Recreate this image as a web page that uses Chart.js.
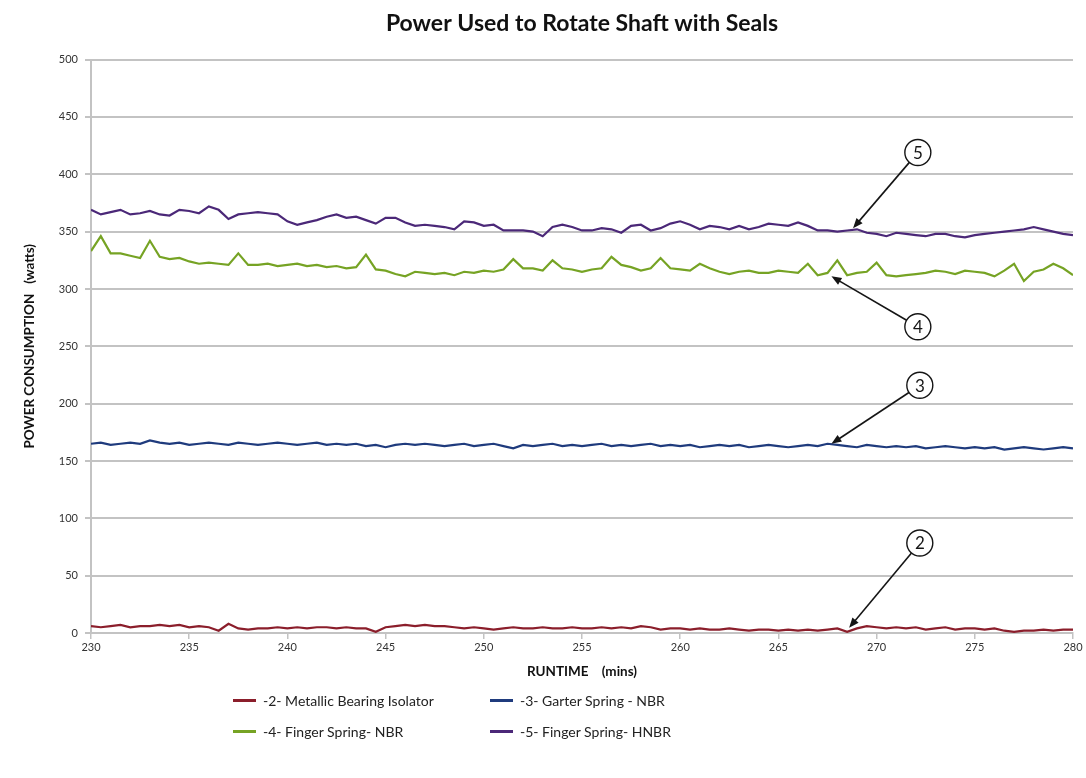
<!DOCTYPE html>
<html>
<head>
<meta charset="utf-8">
<title>Power Used to Rotate Shaft with Seals</title>
<script src="https://cdn.jsdelivr.net/npm/chart.js@4.4.1/dist/chart.umd.min.js"></script>
<style>
    html, body { margin: 0; padding: 0; background: #fff; }
    #wrap { position: relative; width: 1086px; height: 778px; overflow: hidden; }
    #chart { position: absolute; left: 0; top: 0; }
    #legend {
        position: absolute; left: 233px; top: 685px;
        display: grid; grid-template-columns: 257px 257px; grid-auto-rows: 31px;
        font-family: Lato, "Open Sans", sans-serif; font-size: 14px; color: #222;
    }
    #legend .item { display: flex; align-items: center; white-space: nowrap; }
    #legend .swatch { display: inline-block; width: 23px; height: 2.5px; margin-right: 7px; }
</style>
</head>
<body>
<div id="wrap">
    <canvas id="chart" width="1086" height="690"></canvas>
    <div id="legend"></div>
</div>
<script>
// ==================== DATA ====================
const runtime = [
    230, 230.5, 231, 231.5, 232, 232.5, 233, 233.5, 234, 234.5,
    235, 235.5, 236, 236.5, 237, 237.5, 238, 238.5, 239, 239.5,
    240, 240.5, 241, 241.5, 242, 242.5, 243, 243.5, 244, 244.5,
    245, 245.5, 246, 246.5, 247, 247.5, 248, 248.5, 249, 249.5,
    250, 250.5, 251, 251.5, 252, 252.5, 253, 253.5, 254, 254.5,
    255, 255.5, 256, 256.5, 257, 257.5, 258, 258.5, 259, 259.5,
    260, 260.5, 261, 261.5, 262, 262.5, 263, 263.5, 264, 264.5,
    265, 265.5, 266, 266.5, 267, 267.5, 268, 268.5, 269, 269.5,
    270, 270.5, 271, 271.5, 272, 272.5, 273, 273.5, 274, 274.5,
    275, 275.5, 276, 276.5, 277, 277.5, 278, 278.5, 279, 279.5,
    280
];

// -2- Metallic Bearing Isolator
const sealMetallic = [
    6, 5, 6, 7, 5, 6, 6, 7, 6, 7,
    5, 6, 5, 2, 8, 4, 3, 4, 4, 5,
    4, 5, 4, 5, 5, 4, 5, 4, 4, 1,
    5, 6, 7, 6, 7, 6, 6, 5, 4, 5,
    4, 3, 4, 5, 4, 4, 5, 4, 4, 5,
    4, 4, 5, 4, 5, 4, 6, 5, 3, 4,
    4, 3, 4, 3, 3, 4, 3, 2, 3, 3,
    2, 3, 2, 3, 2, 3, 4, 1, 4, 6,
    5, 4, 5, 4, 5, 3, 4, 5, 3, 4,
    4, 3, 4, 2, 1, 2, 2, 3, 2, 3,
    3
];

// -3- Garter Spring - NBR
const sealGarter = [
    165, 166, 164, 165, 166, 165, 168, 166, 165, 166,
    164, 165, 166, 165, 164, 166, 165, 164, 165, 166,
    165, 164, 165, 166, 164, 165, 164, 165, 163, 164,
    162, 164, 165, 164, 165, 164, 163, 164, 165, 163,
    164, 165, 163, 161, 164, 163, 164, 165, 163, 164,
    163, 164, 165, 163, 164, 163, 164, 165, 163, 164,
    163, 164, 162, 163, 164, 163, 164, 162, 163, 164,
    163, 162, 163, 164, 163, 165, 164, 163, 162, 164,
    163, 162, 163, 162, 163, 161, 162, 163, 162, 161,
    162, 161, 162, 160, 161, 162, 161, 160, 161, 162,
    161
];

// -4- Finger Spring- NBR
const sealFingerNbr = [
    333, 346, 331, 331, 329, 327, 342, 328, 326, 327,
    324, 322, 323, 322, 321, 331, 321, 321, 322, 320,
    321, 322, 320, 321, 319, 320, 318, 319, 330, 317,
    316, 313, 311, 315, 314, 313, 314, 312, 315, 314,
    316, 315, 317, 326, 318, 318, 316, 325, 318, 317,
    315, 317, 318, 328, 321, 319, 316, 318, 327, 318,
    317, 316, 322, 318, 315, 313, 315, 316, 314, 314,
    316, 315, 314, 322, 312, 314, 325, 312, 314, 315,
    323, 312, 311, 312, 313, 314, 316, 315, 313, 316,
    315, 314, 311, 316, 322, 307, 315, 317, 322, 318,
    312
];

// -5- Finger Spring- HNBR
const sealFingerHnbr = [
    369, 365, 367, 369, 365, 366, 368, 365, 364, 369,
    368, 366, 372, 369, 361, 365, 366, 367, 366, 365,
    359, 356, 358, 360, 363, 365, 362, 363, 360, 357,
    362, 362, 358, 355, 356, 355, 354, 352, 359, 358,
    355, 356, 351, 351, 351, 350, 346, 354, 356, 354,
    351, 351, 353, 352, 349, 355, 356, 351, 353, 357,
    359, 356, 352, 355, 354, 352, 355, 352, 354, 357,
    356, 355, 358, 355, 351, 351, 350, 351, 352, 349,
    348, 346, 349, 348, 347, 346, 348, 348, 346, 345,
    347, 348, 349, 350, 351, 352, 354, 352, 350, 348,
    347
];

const seriesNames = [
    '-2- Metallic Bearing Isolator',
    '-3- Garter Spring - NBR',
    '-4- Finger Spring- NBR',
    '-5- Finger Spring- HNBR'
];
const seriesValues = [sealMetallic, sealGarter, sealFingerNbr, sealFingerHnbr];
const seriesColors = ['#8b1e2b', '#1f3b7d', '#76a324', '#4b2878'];

// callouts: numbered circles with arrows (data units)
const calloutLabels = ['5', '4', '3', '2'];
const calloutCircleX = [272.1, 272.1, 272.2, 272.2];
const calloutCircleY = [419, 267, 216, 78.5];
const calloutTipX = [268.8, 267.7, 267.7, 268.6];
const calloutTipY = [353, 311, 165, 4.5];

// ==================== PLUGIN: CALLOUTS ====================
const calloutPlugin = {
    id: 'callouts',
    afterDatasetsDraw(chart) {
        const { ctx, scales: { x, y } } = chart;
        const r = 13;
        ctx.save();
        calloutLabels.forEach((lbl, i) => {
            const cx = x.getPixelForValue(calloutCircleX[i]);
            const cy = y.getPixelForValue(calloutCircleY[i]);
            const tx = x.getPixelForValue(calloutTipX[i]);
            const ty = y.getPixelForValue(calloutTipY[i]);
            const ang = Math.atan2(ty - cy, tx - cx);

            ctx.strokeStyle = '#151515';
            ctx.fillStyle = '#151515';
            ctx.lineWidth = 1.6;
            ctx.beginPath();
            ctx.moveTo(cx + r * Math.cos(ang), cy + r * Math.sin(ang));
            ctx.lineTo(tx - 6 * Math.cos(ang), ty - 6 * Math.sin(ang));
            ctx.stroke();

            // arrow head
            const len = 10, half = 4;
            const bx = tx - len * Math.cos(ang), by = ty - len * Math.sin(ang);
            ctx.beginPath();
            ctx.moveTo(tx, ty);
            ctx.lineTo(bx + half * Math.sin(ang), by - half * Math.cos(ang));
            ctx.lineTo(bx - half * Math.sin(ang), by + half * Math.cos(ang));
            ctx.closePath();
            ctx.fill();

            // circle with number
            ctx.beginPath();
            ctx.arc(cx, cy, r, 0, Math.PI * 2);
            ctx.fillStyle = '#fff';
            ctx.fill();
            ctx.lineWidth = 1.4;
            ctx.stroke();
            ctx.fillStyle = '#151515';
            ctx.font = '17px Lato, sans-serif';
            ctx.textAlign = 'center';
            ctx.textBaseline = 'middle';
            ctx.fillText(lbl, cx, cy + 1);
        });
        ctx.restore();
    }
};

// ==================== CHART ====================
const datasets = seriesNames.map((name, i) => ({
    label: name,
    data: runtime.map((t, k) => ({ x: t, y: seriesValues[i][k] })),
    borderColor: seriesColors[i],
    backgroundColor: seriesColors[i],
    borderWidth: 2.2,
    pointRadius: 0,
    tension: 0
}));

const tickFont = { family: 'Lato, sans-serif', size: 11 };
const gridColor = '#c3c3c3';

new Chart(document.getElementById('chart'), {
    type: 'line',
    data: { datasets: datasets },
    options: {
        responsive: false,
        animation: false,
        layout: { padding: { left: 0, right: 13, top: 0, bottom: 0 } },
        plugins: {
            legend: { display: false },
            tooltip: { enabled: false },
            title: {
                display: true,
                fullSize: false,
                text: 'Power Used to Rotate Shaft with Seals',
                color: '#111',
                font: { family: 'Lato, sans-serif', size: 23, weight: 'bold' },
                padding: { top: 10, bottom: 22 }
            }
        },
        scales: {
            x: {
                type: 'linear',
                min: 230,
                max: 280,
                ticks: { stepSize: 5, color: '#333', font: tickFont, padding: 2, maxRotation: 0 },
                grid: { drawOnChartArea: false, drawTicks: true, tickLength: 6, color: gridColor, lineWidth: 1.5 },
                border: { color: gridColor, width: 2 },
                title: {
                    display: true,
                    text: 'RUNTIME    (mins)',
                    color: '#111',
                    font: { family: 'Lato, sans-serif', size: 13.5, weight: 'bold' },
                    padding: { top: 0, bottom: 10 }
                },
                afterFit: s => { s.height = 57; }
            },
            y: {
                min: 0,
                max: 500,
                ticks: { stepSize: 50, color: '#333', font: tickFont, padding: 7 },
                grid: { color: gridColor, lineWidth: 2, tickLength: 6 },
                border: { color: gridColor, width: 2 },
                title: {
                    display: true,
                    text: 'POWER CONSUMPTION   (watts)',
                    color: '#111',
                    font: { family: 'Lato, sans-serif', size: 13.5, weight: 'bold' },
                    padding: { top: 22, bottom: 0 }
                },
                afterFit: s => { s.width = 91; }
            }
        }
    },
    plugins: [calloutPlugin]
});

// ==================== LEGEND (2 x 2) ====================
const legendBox = document.getElementById('legend');
legendBox.innerHTML = seriesNames.map((name, i) =>
    `<div class="item"><span class="swatch" style="background:${seriesColors[i]}"></span>${name}</div>`
).join('');
</script>
</body>
</html>
